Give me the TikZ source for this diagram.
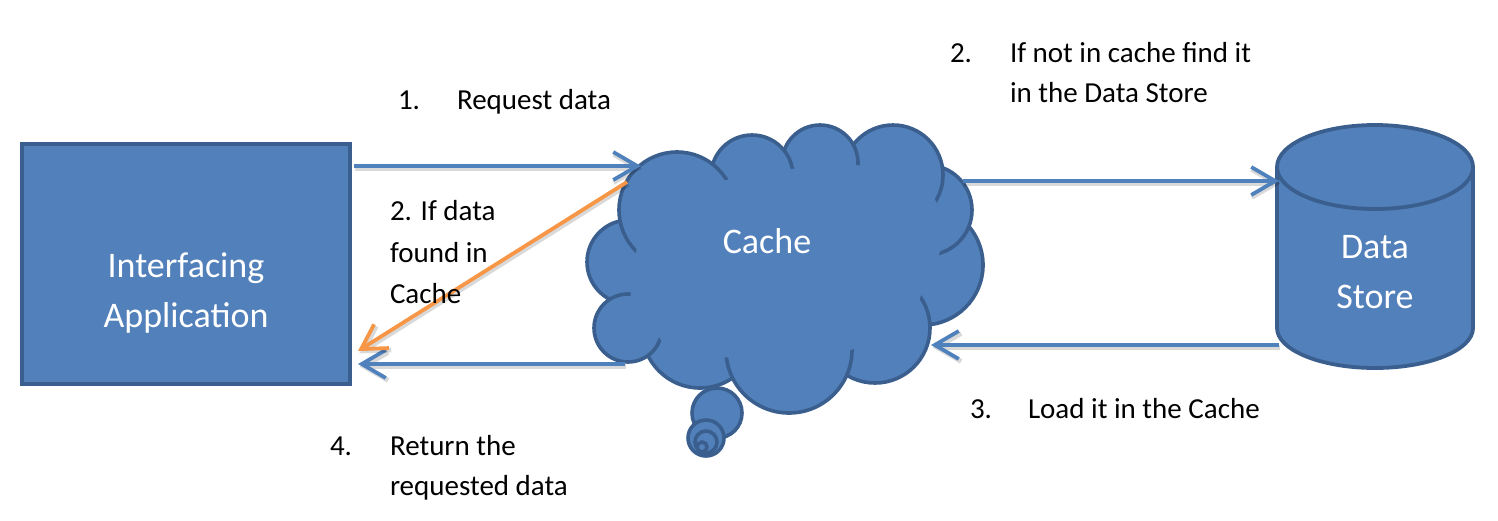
\documentclass[tikz,border=0pt]{standalone}
\usepackage{fontspec}
\setmainfont{Carlito}
\usetikzlibrary{arrows.meta}
\definecolor{shapeblue}{HTML}{5280BA}
\definecolor{edgeblue}{HTML}{3A5F8E}
\definecolor{arrowblue}{HTML}{4F81BD}
\definecolor{arroworange}{HTML}{F79646}
\begin{document}
\begin{tikzpicture}[x=0.5pt,y=-0.5pt,
  every node/.style={inner sep=0pt, outer sep=0pt},
  blueshape/.style={fill=shapeblue, draw=edgeblue, line width=1.9pt},
  puff/.style={fill=shapeblue, draw=edgeblue, line width=1.8pt},
  inshape/.style={text=white, font=\fontsize{18}{22}\selectfont, anchor=base},
  lbl/.style={text=black, font=\fontsize{14.5}{18}\selectfont, anchor=base west},
  shadowed/.style={preaction={draw=black, opacity=0.15, line width=2.4pt, transform canvas={shift={(0.7pt,-1.2pt)}}}},
  link/.style={draw=arrowblue, line width=1.9pt, -{Straight Barb[length=12pt,width=14pt]}, shadowed},
  hitlink/.style={link, draw=arroworange},
]
\useasboundingbox (0,0) rectangle (1498,520);

% Interfacing Application box
\node[blueshape, minimum width=164pt, minimum height=120pt] (app) at (186,264) {};
\node[inshape] (appA) at (186,277) {Interfacing};
\node[inshape] (appB) at (186,327) {Application};

% Data Store cylinder
\path[blueshape] (1277,167) -- (1277,328)
  arc[start angle=180, end angle=0, x radius=98, y radius=40]
  -- (1473,167)
  arc[start angle=0, end angle=-180, x radius=98, y radius=42] -- cycle;
\draw[edgeblue, line width=1.9pt] (1277,167) arc[start angle=180, end angle=0, x radius=98, y radius=42];
\node[inshape] (storeA) at (1375,258) {Data};
\node[inshape] (storeB) at (1375,308) {Store};

% Cache cloud (puffs)
\path[puff] (923,265) circle[radius=60];
\path[puff] (927,210) circle[radius=45];
\path[puff] (893,175) circle[radius=50];
\path[puff] (820,163) circle[radius=38];
\path[puff] (752,176) circle[radius=41];
\path[puff] (875,328) circle[radius=55];
\path[puff] (700,330) circle[radius=58];
\path[puff] (789,350) circle[radius=63];
\path[puff] (629,262) circle[radius=42];
\path[puff] (628,328) circle[radius=34];
\path[puff] (677,210) circle[radius=58];
\fill[shapeblue] (724.6,180.3) -- (784.2,170) -- (843.1,162.4) -- (925,178.5)
  -- (949.4,230.1) -- (911.5,317.4) -- (837.2,357.5) -- (740.5,359.9)
  -- (665.5,346.7) -- (630.6,296) -- (639.3,226.2) -- cycle;
\path[puff] (717,413) circle[radius=25];
\path[puff] (706,438) circle[radius=18];
\path[puff] (706,442) circle[radius=11];
\path[puff] (702,447) circle[radius=5];
\node[inshape] (cache) at (767,253) {Cache};

% connectors
\coordinate (reqS) at (354,166);
\coordinate (reqE) at (641,166);
\coordinate (hitS) at (627,182);
\coordinate (hitE) at (358,351);
\coordinate (retS) at (625,364);
\coordinate (retE) at (358,364);
\coordinate (findS) at (963,181);
\coordinate (findE) at (1279,181);
\coordinate (loadS) at (1279,345);
\coordinate (loadE) at (931,345);
\draw[link] (reqS) -- (reqE);
\draw[link] (retS) -- (retE);
\draw[hitlink] (hitS) -- (hitE);
\draw[link] (findS) -- (findE);
\draw[link] (loadS) -- (loadE);

% labels
\node[lbl] (n1) at (398,109) {1.};
\node[lbl] (t1) at (457,109) {Request data};
\node[lbl] (n2) at (950,62) {2.};
\node[lbl] (t2a) at (1010,62) {If not in cache find it};
\node[lbl] (t2b) at (1010,102) {in the Data Store};
\node[lbl] (h1) at (390,220) {2. If data};
\node[lbl] (h2) at (390,262) {found in};
\node[lbl] (h3) at (390,303) {Cache};
\node[lbl] (n3) at (970,418) {3.};
\node[lbl] (t3) at (1028,418) {Load it in the Cache};
\node[lbl] (n4) at (330,455) {4.};
\node[lbl] (t4a) at (390,455) {Return the};
\node[lbl] (t4b) at (390,495) {requested data};
\end{tikzpicture}
\end{document}
